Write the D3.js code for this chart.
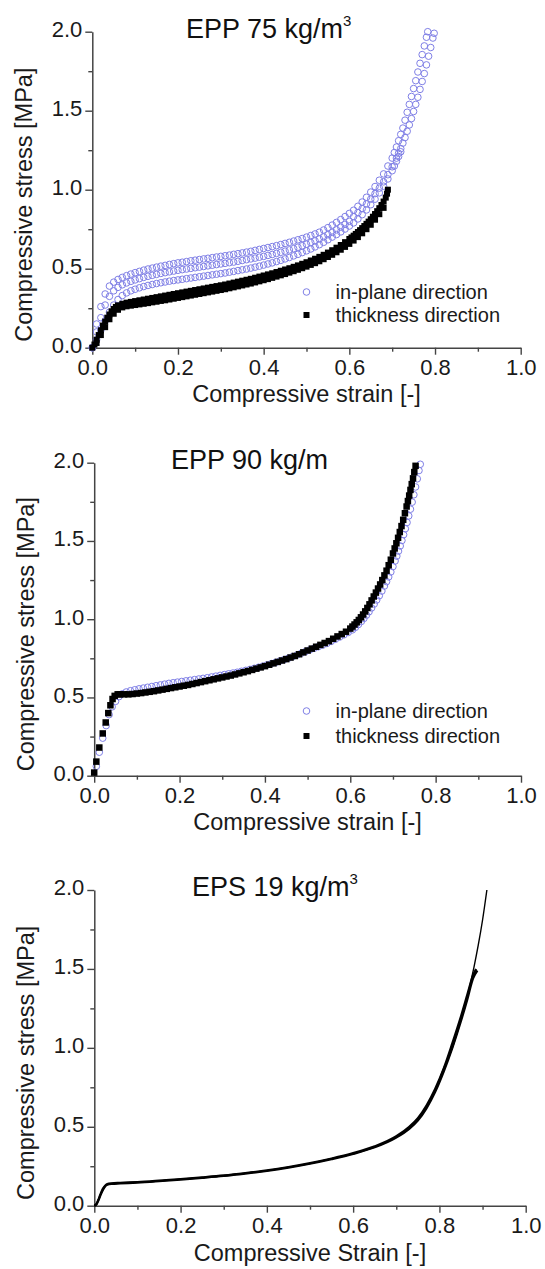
<!DOCTYPE html>
<html><head><meta charset="utf-8">
<script src="https://cdn.jsdelivr.net/npm/d3@7"></script>
<style>
html,body{margin:0;padding:0;background:#fff;}
svg{display:block;font-family:"Liberation Sans",Arial,sans-serif;}
</style></head>
<body>
<svg id="chart" width="545" height="1269"></svg>
<script>
// ---------------- DATA ----------------
const xTicksMajor = [0, 0.2, 0.4, 0.6, 0.8, 1.0];
const xTicksMinor = [0.1, 0.3, 0.5, 0.7, 0.9];
const yTicksMajor = [0, 0.5, 1.0, 1.5, 2.0];
const yTicksMinor = [0.25, 0.75, 1.25, 1.75];
const panelTitles = ["EPP 75 kg/m", "EPP 90 kg/m", "EPS 19 kg/m"];
const titleSup = ["3", "", "3"];
const xTitles = ["Compressive strain [-]", "Compressive strain [-]", "Compressive Strain [-]"];
const yTitle = "Compressive stress [MPa]";
const legendLabels = ["in-plane direction", "thickness direction"];

// EPP 75: in-plane direction, three specimens [strain, stress]
const epp75InplaneA = [[0,0],[0.01,0.15],[0.02,0.26],[0.03,0.34],[0.04,0.39],[0.05,0.415],[0.06,0.432],[0.07,0.445],[0.08,0.456],[0.09,0.466],[0.10,0.475],[0.11,0.483],[0.12,0.491],[0.13,0.498],[0.14,0.504],[0.15,0.510],[0.16,0.516],[0.17,0.521],[0.18,0.527],[0.19,0.532],[0.20,0.537],[0.21,0.541],[0.22,0.545],[0.23,0.550],[0.24,0.554],[0.25,0.558],[0.26,0.562],[0.27,0.566],[0.28,0.570],[0.29,0.574],[0.30,0.578],[0.31,0.582],[0.32,0.586],[0.33,0.591],[0.34,0.595],[0.35,0.600],[0.36,0.605],[0.37,0.610],[0.38,0.616],[0.39,0.622],[0.40,0.628],[0.41,0.634],[0.42,0.640],[0.43,0.646],[0.44,0.653],[0.45,0.660],[0.46,0.667],[0.47,0.675],[0.48,0.683],[0.49,0.691],[0.50,0.700],[0.51,0.710],[0.52,0.720],[0.53,0.731],[0.54,0.745],[0.55,0.760],[0.56,0.776],[0.57,0.793],[0.58,0.811],[0.59,0.830],[0.60,0.850],[0.61,0.87],[0.62,0.895],[0.63,0.922],[0.64,0.952],[0.65,0.985],[0.66,1.02],[0.67,1.06],[0.68,1.10],[0.69,1.15],[0.70,1.2],[0.705,1.235],[0.71,1.27],[0.715,1.31],[0.72,1.35],[0.725,1.39],[0.73,1.44],[0.735,1.49],[0.74,1.54],[0.745,1.59],[0.75,1.64],[0.755,1.69],[0.76,1.745],[0.765,1.80],[0.77,1.855],[0.775,1.91],[0.78,1.965],[0.783,2.0]];
const epp75InplaneB = [[0,0],[0.01,0.10],[0.02,0.19],[0.03,0.27],[0.04,0.325],[0.05,0.36],[0.06,0.382],[0.07,0.398],[0.08,0.41],[0.09,0.42],[0.10,0.429],[0.11,0.437],[0.12,0.445],[0.13,0.452],[0.14,0.458],[0.15,0.464],[0.16,0.470],[0.17,0.475],[0.18,0.480],[0.19,0.485],[0.20,0.490],[0.21,0.494],[0.22,0.498],[0.23,0.502],[0.24,0.506],[0.25,0.510],[0.26,0.514],[0.27,0.518],[0.28,0.522],[0.29,0.526],[0.30,0.530],[0.31,0.534],[0.32,0.538],[0.33,0.542],[0.34,0.547],[0.35,0.552],[0.36,0.557],[0.37,0.562],[0.38,0.567],[0.39,0.573],[0.40,0.578],[0.41,0.584],[0.42,0.590],[0.43,0.597],[0.44,0.604],[0.45,0.611],[0.46,0.619],[0.47,0.627],[0.48,0.636],[0.49,0.645],[0.50,0.655],[0.51,0.665],[0.52,0.676],[0.53,0.688],[0.54,0.701],[0.55,0.715],[0.56,0.730],[0.57,0.746],[0.58,0.763],[0.59,0.781],[0.60,0.800],[0.61,0.83],[0.62,0.855],[0.63,0.88],[0.64,0.91],[0.65,0.94],[0.66,0.975],[0.67,1.01],[0.68,1.05],[0.69,1.095],[0.70,1.145],[0.71,1.2],[0.715,1.23],[0.72,1.26],[0.725,1.295],[0.73,1.33],[0.735,1.37],[0.74,1.41],[0.745,1.45],[0.75,1.495],[0.755,1.54],[0.76,1.585],[0.765,1.635],[0.77,1.685],[0.775,1.735],[0.78,1.79],[0.785,1.845],[0.79,1.90],[0.795,1.96],[0.798,1.99]];
const epp75InplaneC = [[0,0],[0.01,0.05],[0.02,0.11],[0.03,0.17],[0.04,0.225],[0.05,0.27],[0.06,0.305],[0.07,0.33],[0.08,0.347],[0.09,0.36],[0.10,0.37],[0.11,0.379],[0.12,0.387],[0.13,0.394],[0.14,0.40],[0.15,0.406],[0.16,0.411],[0.17,0.416],[0.18,0.421],[0.19,0.425],[0.20,0.429],[0.21,0.433],[0.22,0.437],[0.23,0.441],[0.24,0.445],[0.25,0.449],[0.26,0.453],[0.27,0.457],[0.28,0.461],[0.29,0.465],[0.30,0.469],[0.31,0.473],[0.32,0.478],[0.33,0.483],[0.34,0.488],[0.35,0.493],[0.36,0.498],[0.37,0.504],[0.38,0.510],[0.39,0.516],[0.40,0.523],[0.41,0.530],[0.42,0.537],[0.43,0.545],[0.44,0.553],[0.45,0.562],[0.46,0.571],[0.47,0.581],[0.48,0.591],[0.49,0.602],[0.50,0.613],[0.51,0.625],[0.52,0.638],[0.53,0.652],[0.54,0.667],[0.55,0.683],[0.56,0.700],[0.57,0.716],[0.58,0.733],[0.59,0.751],[0.60,0.770],[0.61,0.79],[0.62,0.815],[0.63,0.842],[0.64,0.872],[0.65,0.905],[0.66,0.94],[0.67,0.98],[0.68,1.022],[0.69,1.068],[0.70,1.12],[0.705,1.15],[0.71,1.18],[0.715,1.21],[0.72,1.24]];
// EPP 75: thickness direction, two specimens
const epp75ThickA = [[0,0],[0.005,0.02],[0.01,0.05],[0.015,0.08],[0.02,0.11],[0.025,0.14],[0.03,0.165],[0.035,0.19],[0.04,0.21],[0.045,0.23],[0.05,0.245],[0.055,0.258],[0.06,0.268],[0.07,0.278],[0.08,0.285],[0.09,0.29],[0.10,0.295],[0.11,0.3],[0.12,0.305],[0.13,0.31],[0.14,0.315],[0.15,0.32],[0.16,0.325],[0.17,0.33],[0.18,0.335],[0.19,0.34],[0.20,0.345],[0.21,0.35],[0.22,0.355],[0.23,0.36],[0.24,0.365],[0.25,0.37],[0.26,0.375],[0.27,0.38],[0.28,0.385],[0.29,0.39],[0.30,0.395],[0.31,0.40],[0.32,0.406],[0.33,0.412],[0.34,0.418],[0.35,0.424],[0.36,0.43],[0.37,0.436],[0.38,0.443],[0.39,0.45],[0.40,0.457],[0.41,0.464],[0.42,0.471],[0.43,0.479],[0.44,0.487],[0.45,0.495],[0.46,0.503],[0.47,0.512],[0.48,0.521],[0.49,0.531],[0.50,0.541],[0.51,0.552],[0.52,0.563],[0.53,0.575],[0.54,0.588],[0.55,0.602],[0.56,0.617],[0.57,0.633],[0.58,0.65],[0.59,0.668],[0.60,0.688],[0.605,0.698],[0.61,0.709],[0.615,0.72],[0.62,0.732],[0.625,0.744],[0.63,0.757],[0.635,0.77],[0.64,0.784],[0.645,0.798],[0.65,0.813],[0.655,0.829],[0.66,0.846],[0.665,0.864],[0.67,0.883],[0.675,0.903],[0.68,0.925],[0.685,0.95],[0.688,0.975],[0.69,1.0]];
const epp75ThickB = [[0.01,0.03],[0.02,0.08],[0.03,0.13],[0.04,0.18],[0.05,0.215],[0.06,0.24],[0.07,0.255],[0.08,0.262],[0.09,0.266],[0.10,0.27],[0.11,0.274],[0.12,0.278],[0.13,0.282],[0.14,0.287],[0.15,0.291],[0.16,0.296],[0.17,0.30],[0.18,0.305],[0.19,0.31],[0.20,0.315],[0.21,0.32],[0.22,0.325],[0.23,0.33],[0.24,0.335],[0.25,0.34],[0.26,0.345],[0.27,0.35],[0.28,0.355],[0.29,0.36],[0.30,0.365],[0.31,0.37],[0.32,0.376],[0.33,0.382],[0.34,0.388],[0.35,0.394],[0.36,0.40],[0.37,0.406],[0.38,0.413],[0.39,0.42],[0.40,0.427],[0.41,0.434],[0.42,0.442],[0.43,0.45],[0.44,0.458],[0.45,0.466],[0.46,0.475],[0.47,0.484],[0.48,0.493],[0.49,0.503],[0.50,0.513],[0.51,0.524],[0.52,0.535],[0.53,0.547],[0.54,0.56],[0.55,0.574],[0.56,0.588],[0.57,0.604],[0.58,0.62],[0.59,0.638],[0.60,0.657],[0.61,0.678],[0.62,0.70],[0.63,0.724],[0.64,0.75],[0.65,0.778],[0.66,0.81],[0.67,0.845],[0.68,0.885]];

// EPP 90
const epp90Inplane = [[0.005,0.06],[0.012,0.15],[0.02,0.24],[0.028,0.32],[0.035,0.39],[0.042,0.44],[0.05,0.475],[0.058,0.505],[0.066,0.523],[0.075,0.535],[0.085,0.543],[0.095,0.549],[0.105,0.555],[0.115,0.56],[0.125,0.565],[0.135,0.57],[0.145,0.575],[0.155,0.58],[0.165,0.585],[0.175,0.59],[0.185,0.594],[0.195,0.598],[0.205,0.602],[0.215,0.606],[0.225,0.61],[0.235,0.614],[0.245,0.618],[0.255,0.622],[0.265,0.626],[0.275,0.631],[0.285,0.636],[0.295,0.641],[0.305,0.646],[0.315,0.651],[0.325,0.656],[0.335,0.661],[0.345,0.667],[0.355,0.673],[0.365,0.679],[0.375,0.686],[0.385,0.693],[0.395,0.70],[0.405,0.708],[0.415,0.716],[0.425,0.724],[0.435,0.733],[0.445,0.742],[0.455,0.751],[0.465,0.761],[0.475,0.771],[0.485,0.782],[0.495,0.793],[0.505,0.804],[0.515,0.814],[0.525,0.824],[0.535,0.834],[0.545,0.845],[0.555,0.858],[0.565,0.872],[0.575,0.886],[0.585,0.9],[0.595,0.915],[0.605,0.932],[0.612,0.948],[0.619,0.966],[0.626,0.986],[0.632,1.005],[0.638,1.026],[0.644,1.048],[0.65,1.072],[0.656,1.097],[0.662,1.123],[0.668,1.15],[0.674,1.18],[0.68,1.212],[0.685,1.24],[0.69,1.27],[0.695,1.302],[0.7,1.336],[0.705,1.372],[0.709,1.403],[0.713,1.435],[0.717,1.468],[0.721,1.503],[0.725,1.54],[0.729,1.578],[0.733,1.618],[0.737,1.66],[0.741,1.703],[0.745,1.748],[0.749,1.795],[0.753,1.845],[0.757,1.897],[0.761,1.95],[0.764,1.99]];
const epp90Thick = [[0.0,0.02],[0.005,0.09],[0.012,0.18],[0.02,0.27],[0.027,0.34],[0.033,0.40],[0.038,0.45],[0.043,0.49],[0.048,0.51],[0.055,0.52],[0.06,0.52],[0.07,0.52],[0.08,0.52],[0.09,0.522],[0.10,0.525],[0.11,0.528],[0.12,0.532],[0.13,0.536],[0.14,0.54],[0.15,0.545],[0.16,0.55],[0.17,0.555],[0.18,0.56],[0.19,0.565],[0.20,0.57],[0.21,0.575],[0.22,0.58],[0.23,0.586],[0.24,0.592],[0.25,0.598],[0.26,0.604],[0.27,0.61],[0.28,0.616],[0.29,0.622],[0.30,0.628],[0.31,0.634],[0.32,0.64],[0.33,0.647],[0.34,0.654],[0.35,0.661],[0.36,0.668],[0.37,0.676],[0.38,0.684],[0.39,0.692],[0.40,0.70],[0.41,0.709],[0.42,0.718],[0.43,0.727],[0.44,0.736],[0.45,0.745],[0.46,0.755],[0.47,0.765],[0.48,0.776],[0.49,0.788],[0.50,0.80],[0.51,0.812],[0.52,0.824],[0.53,0.836],[0.54,0.848],[0.55,0.86],[0.56,0.875],[0.57,0.89],[0.58,0.905],[0.59,0.92],[0.60,0.94],[0.605,0.953],[0.61,0.966],[0.615,0.98],[0.62,0.995],[0.625,1.012],[0.63,1.03],[0.635,1.05],[0.64,1.072],[0.645,1.095],[0.65,1.12],[0.655,1.145],[0.66,1.17],[0.665,1.196],[0.67,1.222],[0.675,1.25],[0.68,1.28],[0.685,1.31],[0.69,1.345],[0.695,1.38],[0.70,1.42],[0.704,1.452],[0.708,1.485],[0.712,1.52],[0.716,1.557],[0.72,1.595],[0.724,1.635],[0.728,1.677],[0.732,1.72],[0.735,1.755],[0.738,1.79],[0.741,1.826],[0.744,1.863],[0.747,1.90],[0.75,1.94],[0.753,1.98]];

// EPS 19: three specimen curves
const eps19CurveA = [[0,0],[0.005,0.01],[0.01,0.04],[0.015,0.075],[0.02,0.105],[0.025,0.125],[0.03,0.135],[0.04,0.14],[0.06,0.143],[0.1,0.148],[0.15,0.157],[0.2,0.167],[0.25,0.178],[0.3,0.19],[0.35,0.205],[0.4,0.222],[0.45,0.243],[0.5,0.268],[0.55,0.297],[0.6,0.33],[0.65,0.372],[0.7,0.435],[0.73,0.49],[0.75,0.545],[0.77,0.625],[0.79,0.73],[0.81,0.87],[0.83,1.0],[0.85,1.18],[0.865,1.33],[0.88,1.51],[0.89,1.65],[0.9,1.81],[0.91,2.0]];
const eps19CurveB = [[0,0],[0.005,0.012],[0.01,0.042],[0.015,0.078],[0.02,0.108],[0.025,0.127],[0.03,0.137],[0.04,0.142],[0.06,0.145],[0.1,0.15],[0.15,0.159],[0.2,0.169],[0.25,0.18],[0.3,0.192],[0.35,0.207],[0.4,0.224],[0.45,0.245],[0.5,0.27],[0.55,0.299],[0.6,0.333],[0.65,0.376],[0.7,0.44],[0.73,0.5],[0.75,0.555],[0.77,0.635],[0.79,0.74],[0.81,0.87],[0.83,1.03],[0.85,1.2],[0.865,1.34],[0.878,1.46],[0.885,1.5]];
const eps19CurveC = [[0,0],[0.005,0.008],[0.01,0.036],[0.015,0.07],[0.02,0.1],[0.025,0.122],[0.03,0.132],[0.04,0.138],[0.06,0.141],[0.1,0.146],[0.15,0.155],[0.2,0.165],[0.25,0.176],[0.3,0.188],[0.35,0.203],[0.4,0.22],[0.45,0.241],[0.5,0.266],[0.55,0.295],[0.6,0.328],[0.65,0.37],[0.7,0.432],[0.73,0.487],[0.75,0.54],[0.77,0.617],[0.79,0.72],[0.81,0.85],[0.83,1.0],[0.85,1.17],[0.865,1.31],[0.878,1.44],[0.888,1.49]];

// ---------------- DRAW ----------------
const svg = d3.select("#chart");
const FONT = '"Liberation Sans", Arial, sans-serif';
const blue = "#7f7fe6";

const panels = [
  {x0:92.3, x1:520.7, y0:347.7, y1:31.7, titleX:186, legend:{cx:306.5, cy1:292, cy2:315}, xTitleDy:54},
  {x0:94.2, x1:521.0, y0:775.7, y1:462.7, titleX:171, legend:{cx:306.5, cy1:711, cy2:736}, xTitleDy:54},
  {x0:94.3, x1:525.7, y0:1205.7, y1:890.0, titleX:192, legend:null, xTitleDy:55}
];

function makeAxes(p, i) {
  const x = d3.scaleLinear().domain([0, 1]).range([p.x0, p.x1]);
  const y = d3.scaleLinear().domain([0, 2]).range([p.y0, p.y1]);
  const g = svg.append("g");
  // minor ticks
  g.append("g").attr("transform", `translate(0,${p.y0})`)
    .call(d3.axisBottom(x).tickValues(xTicksMinor).tickSize(4).tickFormat(""))
    .call(s => s.select(".domain").remove());
  g.append("g").attr("transform", `translate(${p.x0},0)`)
    .call(d3.axisLeft(y).tickValues(yTicksMinor).tickSize(4).tickFormat(""))
    .call(s => s.select(".domain").remove());
  // major
  const xa = g.append("g").attr("transform", `translate(0,${p.y0})`)
    .call(d3.axisBottom(x).tickValues(xTicksMajor).tickSize(7).tickSizeOuter(0).tickPadding(5).tickFormat(d3.format(".1f")));
  const ya = g.append("g").attr("transform", `translate(${p.x0},0)`)
    .call(d3.axisLeft(y).tickValues(yTicksMajor).tickSize(7).tickSizeOuter(0).tickPadding(3).tickFormat(d3.format(".1f")));
  ya.selectAll("text").attr("dy", "0.22em");
  [xa, ya].forEach(a => {
    a.selectAll("text").attr("font-size", 22).attr("font-family", FONT).attr("fill", "#1a1a1a");
  });
  g.selectAll("line").attr("stroke", "#444").attr("stroke-width", 1.4);
  g.selectAll(".domain").attr("stroke", "#444").attr("stroke-width", 1.5);

  // axis titles
  svg.append("text").attr("x", (p.x0 + p.x1) / 2).attr("y", p.y0 + p.xTitleDy)
    .attr("text-anchor", "middle").attr("font-size", 23.5).attr("font-family", FONT).attr("fill", "#1a1a1a")
    .text(xTitles[i]);
  const cy = (p.y0 + p.y1) / 2 + 15;
  svg.append("text").attr("transform", `translate(${p.x0 - 60},${cy}) rotate(-90)`)
    .attr("text-anchor", "middle").attr("font-size", 23.5).attr("font-family", FONT).attr("fill", "#1a1a1a")
    .text(yTitle);
  // panel title
  const t = svg.append("text").attr("x", p.titleX).attr("y", y(2) + 6)
    .attr("font-size", 27).attr("font-family", FONT).attr("fill", "#111");
  t.append("tspan").text(panelTitles[i]);
  if (titleSup[i]) t.append("tspan").attr("dy", -12).attr("font-size", 15).text(titleSup[i]);
  return {x, y};
}

function circles(sc, data) {
  svg.append("g").selectAll("circle").data(data).join("circle")
    .attr("cx", d => sc.x(d[0])).attr("cy", d => sc.y(d[1])).attr("r", 3.3)
    .attr("fill", "none").attr("stroke", blue).attr("stroke-width", 1);
}
function squares(sc, data, s) {
  svg.append("g").selectAll("rect").data(data).join("rect")
    .attr("x", d => sc.x(d[0]) - s / 2).attr("y", d => sc.y(d[1]) - s / 2)
    .attr("width", s).attr("height", s).attr("fill", "#000");
}
function legend(p) {
  const L = p.legend;
  svg.append("circle").attr("cx", L.cx).attr("cy", L.cy1).attr("r", 3.3)
    .attr("fill", "none").attr("stroke", blue).attr("stroke-width", 1);
  svg.append("rect").attr("x", L.cx - 3).attr("y", L.cy2 - 3).attr("width", 6).attr("height", 6).attr("fill", "#000");
  [L.cy1, L.cy2].forEach((cy, k) => {
    svg.append("text").attr("x", L.cx + 29).attr("y", cy + 7)
      .attr("font-size", 20).attr("font-family", FONT).attr("fill", "#1a1a1a").text(legendLabels[k]);
  });
}

// Panel 1
const s1 = makeAxes(panels[0], 0);
circles(s1, epp75InplaneC);
circles(s1, epp75InplaneB);
circles(s1, epp75InplaneA);
squares(s1, epp75ThickB, 6);
squares(s1, epp75ThickA, 6);
legend(panels[0]);

// Panel 2
const s2 = makeAxes(panels[1], 1);
circles(s2, epp90Inplane);
squares(s2, epp90Thick, 6.5);
legend(panels[1]);

// Panel 3
const s3 = makeAxes(panels[2], 2);
const line3 = d3.line().x(d => s3.x(d[0])).y(d => s3.y(d[1])).curve(d3.curveMonotoneX);
[[eps19CurveB, 2.2], [eps19CurveC, 2.2], [eps19CurveA, 1.4]].forEach(([d, w]) => {
  svg.append("path").attr("d", line3(d)).attr("fill", "none").attr("stroke", "#000").attr("stroke-width", w);
});
</script>
</body></html>
